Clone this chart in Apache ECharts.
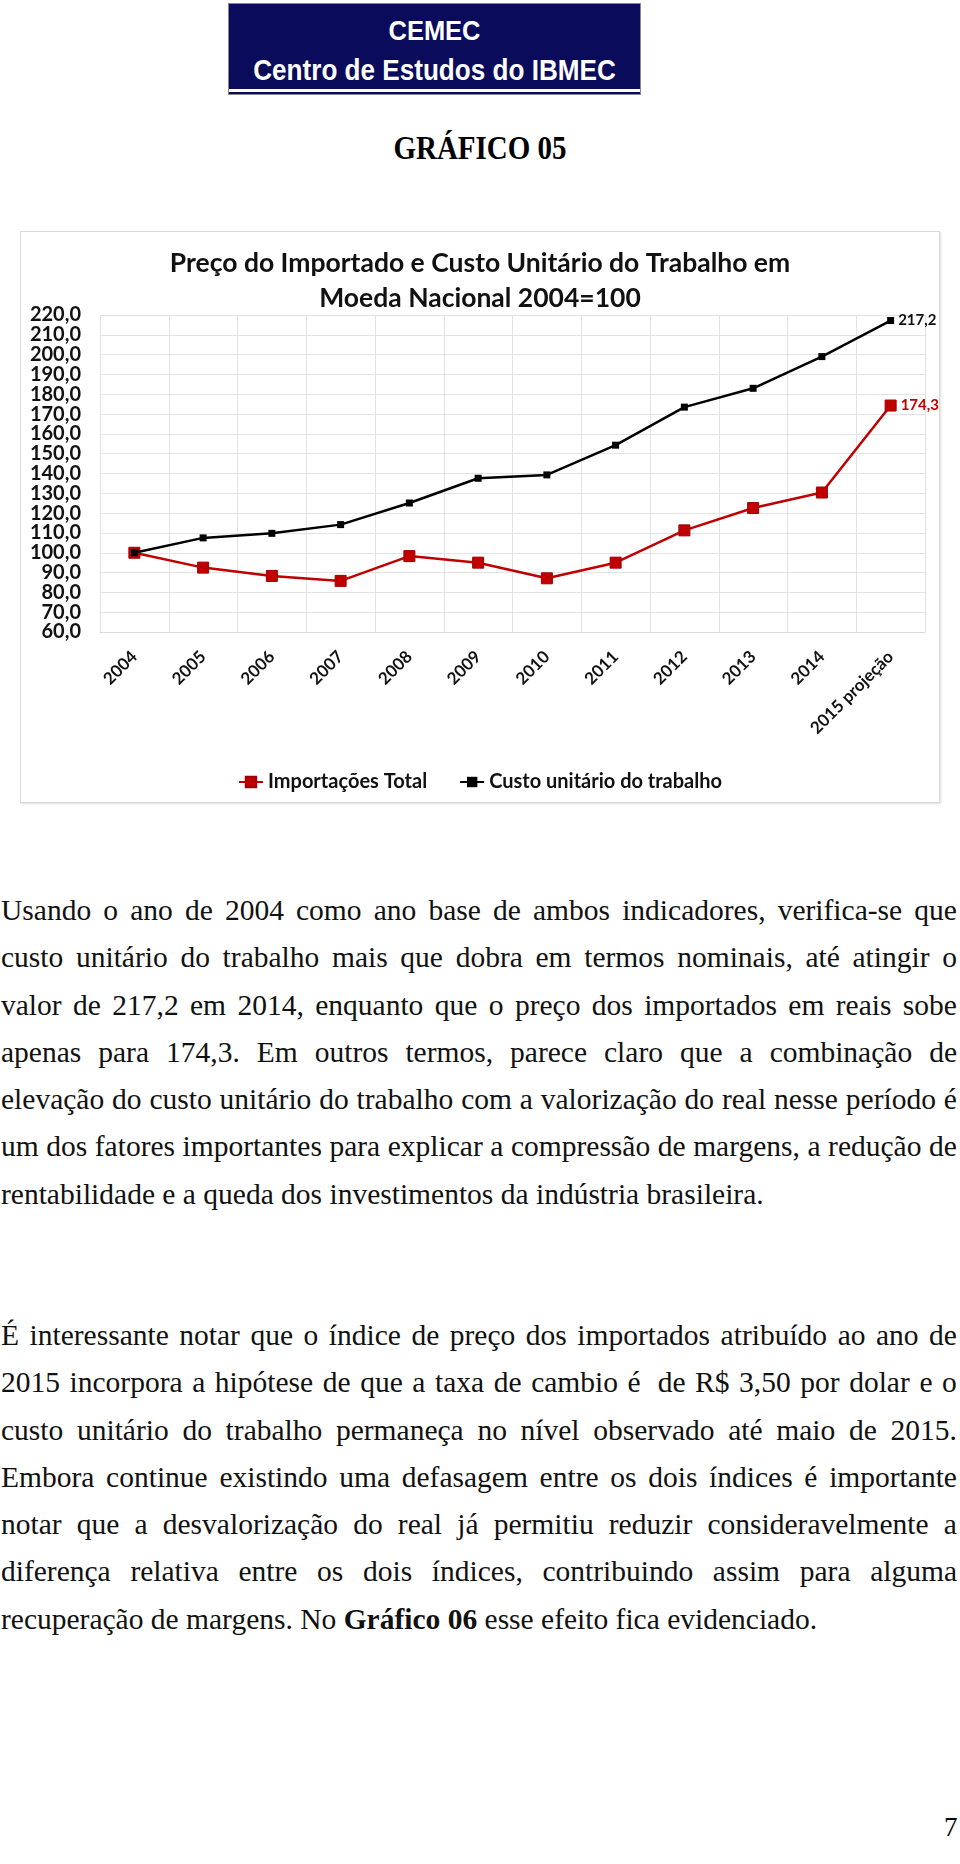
<!DOCTYPE html>
<html><head><meta charset="utf-8">
<script src="https://cdn.jsdelivr.net/npm/echarts@6/dist/echarts.min.js"></script>
<style>
html,body{margin:0;padding:0;background:#fff;}
body{width:960px;height:1864px;position:relative;overflow:hidden;}
#logo{position:absolute;left:228px;top:3px;width:413px;height:92px;background:#0b0b5c;border:1px solid #888;box-sizing:border-box;color:#fff;font-family:"Liberation Sans",Arial,sans-serif;font-weight:bold;text-align:center;overflow:hidden;}
#logo .l1{position:absolute;left:-60px;right:-60px;top:11px;font-size:28px;line-height:32px;white-space:nowrap;transform:scale(0.91,1);}
#logo .l2{position:absolute;left:-60px;right:-60px;top:49px;font-size:30px;line-height:34px;white-space:nowrap;transform:scale(0.87,1);}
#logo .stripe{position:absolute;left:0;right:0;top:85px;height:3px;background:#fff;}
#gtitle{position:absolute;left:0;width:960px;top:128px;text-align:center;font-family:"Liberation Serif","Times New Roman",serif;font-weight:bold;font-size:29px;line-height:38px;transform:scaleY(1.15);}
#chart{position:absolute;left:20px;top:231px;width:920px;height:572px;border:1px solid #d9d9d9;box-sizing:border-box;box-shadow:1px 1px 2px #ddd;}
.para{position:absolute;left:1px;width:956px;font-family:"Liberation Serif","Times New Roman",serif;font-size:29.5px;line-height:47.3px;color:#111;}
.para .ln{display:flex;justify-content:space-between;white-space:nowrap;height:47.3px;}
.para .last{white-space:nowrap;height:47.3px;}
#p1{top:887px;}
#p2{top:1312px;}
#pg{position:absolute;left:944px;top:1812px;font-family:"Liberation Serif",serif;font-size:27px;}
</style></head>
<body>
<div id="logo"><div class="l1">CEMEC</div><div class="l2">Centro de Estudos do IBMEC</div><div class="stripe"></div></div>
<div id="gtitle">GRÁFICO 05</div>
<div id="chart"></div>
<div class="para" id="p1"></div>
<div class="para" id="p2"></div>
<div id="pg">7</div>
<script>
var paragraph1 = [
 'Usando o ano de 2004 como ano base de ambos indicadores, verifica-se que',
 'custo unitário do trabalho mais que dobra em termos nominais, até atingir o',
 'valor de 217,2 em 2014, enquanto que o preço dos importados em reais sobe',
 'apenas para 174,3. Em outros termos, parece claro que a combinação de',
 'elevação do custo unitário do trabalho com a valorização do real nesse período é',
 'um dos fatores importantes para explicar a compressão de margens, a redução de',
 'rentabilidade e a queda dos investimentos da indústria brasileira.'
];
var paragraph2 = [
 'É interessante notar que o índice de preço dos importados atribuído ao ano de',
 '2015 incorpora a hipótese de que a taxa de cambio é\u00a0 de R$ 3,50 por dolar e o',
 'custo unitário do trabalho permaneça no nível observado até maio de 2015.',
 'Embora continue existindo uma defasagem entre os dois índices é importante',
 'notar que a desvalorização do real já permitiu reduzir consideravelmente a',
 'diferença relativa entre os dois índices, contribuindo assim para alguma',
 'recuperação de margens. No <b>Gráfico 06</b> esse efeito fica evidenciado.'
];
function buildPara(id, lines){
  var el = document.getElementById(id);
  lines.forEach(function(line, i){
    var d = document.createElement('div');
    if(i === lines.length-1){ d.className='last'; d.innerHTML = line; }
    else {
      d.className='ln';
      line.split(' ').filter(function(w){return w.length;}).forEach(function(w){
        var s = document.createElement('span'); s.textContent = w; d.appendChild(s);
      });
    }
    el.appendChild(d);
  });
}
buildPara('p1', paragraph1);
buildPara('p2', paragraph2);

var categories = ['2004','2005','2006','2007','2008','2009','2010','2011','2012','2013','2014','2015 projeção'];
var importacoesTotal = [100.0, 92.5, 88.3, 85.8, 98.3, 95.0, 87.1, 95.0, 111.3, 122.6, 130.4, 174.3];
var custoUnitario = [100.0, 107.5, 109.8, 114.2, 125.1, 137.6, 139.3, 154.3, 173.5, 183.0, 199.0, 217.2];
var seriesNames = ['Importações Total', 'Custo unitário do trabalho'];
var titleLines = ['Preço do Importado e Custo Unitário do Trabalho em', 'Moeda Nacional 2004=100'];

var FONT = 'Lato, "Open Sans", sans-serif';
function fmt(v){ return v.toFixed(1).replace('.', ','); }
function lastLabel(arr, color){
  return arr.map(function(v,i){
    if(i === arr.length-1) return {value:v, label:{show:true, position:'right', distance:4, formatter:function(p){return fmt(p.value);}, color:color, fontWeight:'bold', fontSize:15, fontFamily:FONT}};
    return v;
  });
}
var tStyle = {fontFamily:FONT, fontWeight:'bold', fontSize:26.5, color:'#111'};
var chart = echarts.init(document.getElementById('chart'), null, {renderer:'canvas'});
chart.setOption({
  animation:false,
  backgroundColor:'#fff',
  title:[{text:titleLines[0], left:'center', top:13, textStyle:tStyle},
         {text:titleLines[1], left:'center', top:48, textStyle:tStyle}],
  legend:{bottom:5, left:'center', itemWidth:24, itemHeight:13, itemGap:32,
    textStyle:{fontFamily:FONT, fontWeight:'bold', fontSize:20, color:'#111'},
    data:seriesNames},
  grid:{left:79, right:14, top:83, bottom:170, containLabel:false},
  xAxis:{type:'category', data:categories, boundaryGap:true,
    axisLine:{show:true, lineStyle:{color:'#d9d9d9'}},
    axisTick:{show:false},
    splitLine:{show:true, lineStyle:{color:'#e3e3e3', width:1}},
    axisLabel:{rotate:45, interval:0, margin:22, fontFamily:FONT, fontWeight:'bold', fontSize:17, color:'#111'}},
  yAxis:{type:'value', min:60, max:220, interval:10,
    axisLine:{show:false}, axisTick:{show:false},
    splitLine:{lineStyle:{color:'#e3e3e3', width:1}},
    axisLabel:{formatter:function(v){return fmt(v);}, margin:19, fontFamily:FONT, fontWeight:'bold', fontSize:20, color:'#111'}},
  series:[
    {name:seriesNames[0], type:'line', data:lastLabel(importacoesTotal,'#c00000'),
      symbol:'rect', symbolSize:11, z:2,
      lineStyle:{color:'#c00000', width:2.5},
      itemStyle:{color:'#c00000', borderColor:'#a00000', borderWidth:1}},
    {name:seriesNames[1], type:'line', data:lastLabel(custoUnitario,'#111'),
      symbol:'rect', symbolSize:7, z:3,
      lineStyle:{color:'#000', width:2.5},
      itemStyle:{color:'#000'}}
  ]
});
</script>
</body></html>
